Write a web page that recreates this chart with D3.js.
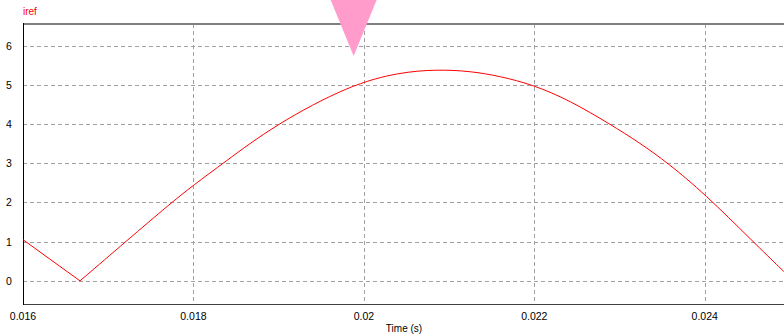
<!DOCTYPE html>
<html>
<head>
<meta charset="utf-8">
<script src="https://cdn.jsdelivr.net/npm/d3@7"></script>
<style>
  body { margin: 0; background: #fff; }
  svg { display: block; font-family: "Liberation Sans", Arial, sans-serif; }
</style>
</head>
<body>
<svg id="chart" width="784" height="336"></svg>
<script>
// values
const times = [0.016, 0.016669, 0.017216, 0.017733, 0.018, 0.01835, 0.018956,
    0.019836, 0.020422, 0.020853, 0.021243, 0.021595, 0.021986, 0.022416,
    0.022886, 0.023237, 0.02357, 0.024, 0.024567, 0.024927];
const iref = [1.05, 0, 1.02, 1.98, 2.44, 3, 3.98,
    5.0, 5.32, 5.39, 5.35, 5.22, 5, 4.6,
    4, 3.52, 3, 2.22, 1, 0.24];
const xTicks = [0.016, 0.018, 0.02, 0.022, 0.024];
const yTicks = [0, 1, 2, 3, 4, 5, 6];
const markerTime = 0.01988;

const svg = d3.select("#chart");
const plotL = 23, plotR = 784, plotT = 24, plotB = 304;

const x = d3.scaleLinear().domain([0.016, 0.02493]).range([plotL, plotR]);
const y = d3.scaleLinear().domain([-0.59, 6.55]).range([plotB, plotT]);

// grid
svg.append("g")
    .selectAll("line")
    .data(xTicks.slice(1))
    .join("line")
    .attr("x1", d => Math.round(x(d)) + 0.5)
    .attr("x2", d => Math.round(x(d)) + 0.5)
    .attr("y1", plotT)
    .attr("y2", plotB)
    .attr("stroke", "#a0a0a0")
    .attr("stroke-dasharray", "4,3");

svg.append("g")
    .selectAll("line")
    .data(yTicks)
    .join("line")
    .attr("x1", plotL)
    .attr("x2", plotR)
    .attr("y1", d => Math.round(y(d)) + 0.5)
    .attr("y2", d => Math.round(y(d)) + 0.5)
    .attr("stroke", "#a0a0a0")
    .attr("stroke-dasharray", "4,3");

// frame
svg.append("line")
    .attr("x1", plotL).attr("x2", plotR)
    .attr("y1", plotT).attr("y2", plotT)
    .attr("stroke", "#808080").attr("stroke-width", 2);
svg.append("line")
    .attr("x1", plotL).attr("x2", plotR)
    .attr("y1", plotB + 0.5).attr("y2", plotB + 0.5)
    .attr("stroke", "#404040");
svg.append("line")
    .attr("x1", plotL + 0.5).attr("x2", plotL + 0.5)
    .attr("y1", plotT - 1).attr("y2", plotB + 1)
    .attr("stroke", "#000");

// tick labels
svg.append("g")
    .selectAll("text")
    .data(yTicks)
    .join("text")
    .attr("x", 9)
    .attr("y", d => y(d) + 4)
    .attr("text-anchor", "middle")
    .attr("font-size", "10.5px")
    .attr("fill", "#000")
    .text(d => d);

svg.append("g")
    .selectAll("text")
    .data(xTicks)
    .join("text")
    .attr("x", d => x(d))
    .attr("y", 320)
    .attr("text-anchor", "middle")
    .attr("font-size", "10.5px")
    .attr("fill", "#000")
    .text(d => d);

svg.append("text")
    .attr("x", 404)
    .attr("y", 332)
    .attr("text-anchor", "middle")
    .attr("font-size", "10px")
    .text("Time (s)");

svg.append("text")
    .attr("x", 23)
    .attr("y", 15)
    .attr("font-size", "10px")
    .attr("fill", "#ff0000")
    .text("iref");

// curve: straight fall to the zero, smooth from there on
const pts = times.map((t, i) => ({ t, v: iref[i] }));
const line = d3.line().x(d => x(d.t)).y(d => y(d.v));

svg.append("path")
    .datum(pts.slice(0, 2))
    .attr("fill", "none")
    .attr("stroke", "#ff0000")
    .attr("d", line);

svg.append("path")
    .datum(pts.slice(1))
    .attr("fill", "none")
    .attr("stroke", "#ff0000")
    .attr("d", line.curve(d3.curveBasis));

// pink marker
const mx = x(markerTime);
svg.append("path")
    .attr("d", `M${mx - 23},0L${mx + 23},0L${mx},56Z`)
    .attr("fill", "#ff9ccc");
</script>
</body>
</html>
